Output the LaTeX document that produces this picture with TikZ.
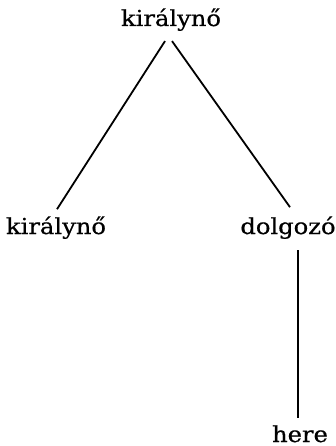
\documentclass[tikz,border=0pt]{standalone}
\usepackage{fontspec}
\usepackage{graphicx}
\setmainfont{DejaVu Serif}[FakeBold=0.6]
\newcommand{\treelabel}[1]{\scalebox{1.1}[1]{#1}}
\tikzset{
  word/.style={inner sep=0pt, anchor=base, font=\fontsize{22}{26}\selectfont},
  edge/.style={line width=1.8pt, black}
}
\begin{document}
\begin{tikzpicture}[x=1pt,y=-1pt]
\useasboundingbox (0,0) rectangle (335,446);
\node[word] (top) at (171,26) {\treelabel{királynő}};
\node[word] (left) at (56,234) {\treelabel{királynő}};
\node[word] (dolg) at (288,234) {\treelabel{dolgozó}};
\node[word] (here) at (300,442) {\treelabel{here}};
\draw[edge] ([xshift=-6pt,yshift=-10pt]top.south) -- ([xshift=1pt,yshift=7pt]left.north);
\draw[edge] ([xshift=1pt,yshift=-10pt]top.south) -- ([xshift=2pt,yshift=9pt]dolg.north);
\draw[edge] ([xshift=10pt,yshift=-11pt]dolg.south) -- ([xshift=-2pt,yshift=7pt]here.north);
\end{tikzpicture}
\end{document}
